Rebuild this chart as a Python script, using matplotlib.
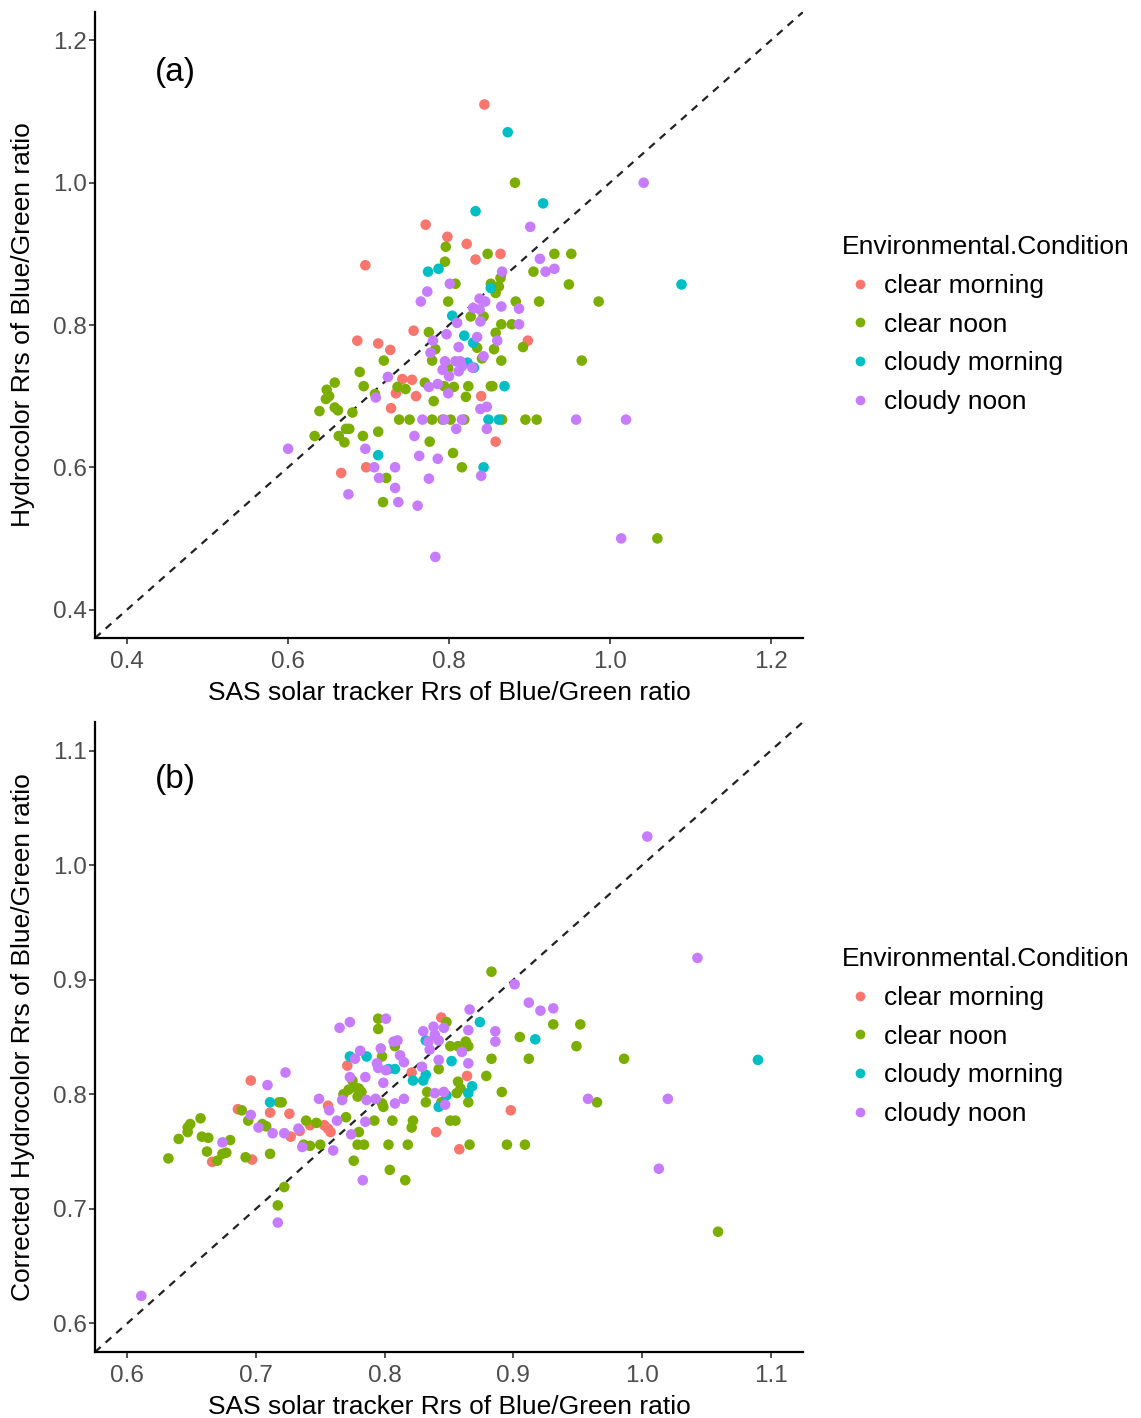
import matplotlib
matplotlib.use("Agg")
import matplotlib.pyplot as plt

plt.rcParams['font.family'] = ['Liberation Sans', 'DejaVu Sans']

categories = ['clear morning', 'clear noon', 'cloudy morning', 'cloudy noon']
colors = ['#F8766D', '#7CAE00', '#00BFC4', '#C77CFF']

# ---- panel (a): Hydrocolor vs SAS ----
a_clear_morning = [(0.844, 1.110), (0.771, 0.941), (0.798, 0.924), (0.822, 0.914), (0.696, 0.884),
                   (0.833, 0.892), (0.864, 0.900), (0.756, 0.792), (0.686, 0.778), (0.712, 0.774),
                   (0.727, 0.765), (0.898, 0.778), (0.742, 0.724), (0.754, 0.723), (0.734, 0.704),
                   (0.759, 0.700), (0.840, 0.700), (0.728, 0.683), (0.858, 0.636), (0.666, 0.592),
                   (0.697, 0.600)]
a_clear_noon = [(0.882, 1.000), (0.796, 0.910), (0.848, 0.900), (0.795, 0.889), (0.905, 0.875),
                (0.808, 0.858), (0.852, 0.858), (0.864, 0.866), (0.862, 0.854), (0.858, 0.845),
                (0.799, 0.833), (0.883, 0.833), (0.912, 0.833), (0.827, 0.812), (0.843, 0.812),
                (0.775, 0.790), (0.865, 0.801), (0.878, 0.801), (0.858, 0.789), (0.892, 0.769),
                (0.856, 0.766), (0.835, 0.768), (0.783, 0.766), (0.719, 0.750), (0.779, 0.750),
                (0.841, 0.753), (0.865, 0.750), (0.799, 0.739), (0.689, 0.734), (0.658, 0.719),
                (0.694, 0.714), (0.736, 0.713), (0.746, 0.710), (0.770, 0.719), (0.794, 0.714),
                (0.806, 0.713), (0.824, 0.714), (0.821, 0.699), (0.852, 0.714), (0.854, 0.714),
                (0.648, 0.709), (0.651, 0.700), (0.647, 0.696), (0.708, 0.703), (0.781, 0.693),
                (0.639, 0.679), (0.658, 0.684), (0.662, 0.680), (0.680, 0.677),
                (0.738, 0.667), (0.751, 0.667), (0.779, 0.667), (0.792, 0.667), (0.802, 0.667),
                (0.819, 0.667), (0.866, 0.667), (0.895, 0.667), (0.909, 0.667),
                (0.672, 0.654), (0.676, 0.654), (0.663, 0.644), (0.670, 0.635), (0.633, 0.644),
                (0.693, 0.644), (0.712, 0.650), (0.776, 0.636), (0.805, 0.620), (0.816, 0.600),
                (0.722, 0.585), (0.718, 0.551), (0.931, 0.900), (0.952, 0.900), (0.949, 0.857),
                (0.986, 0.833), (0.965, 0.750), (1.059, 0.500)]
a_cloudy_morning = [(0.873, 1.071), (0.917, 0.971), (0.833, 0.960), (0.774, 0.875), (0.787, 0.879),
                    (0.852, 0.852), (0.804, 0.813), (0.819, 0.785), (0.830, 0.775), (0.823, 0.747),
                    (0.831, 0.740), (0.869, 0.714), (0.849, 0.667), (0.862, 0.667), (0.712, 0.617),
                    (0.843, 0.600), (1.089, 0.857)]
a_cloudy_noon = [(0.901, 0.938), (0.913, 0.893), (0.920, 0.875), (0.866, 0.875), (0.801, 0.858),
                 (0.773, 0.847), (0.765, 0.833), (0.838, 0.837), (0.830, 0.824), (0.845, 0.833),
                 (0.838, 0.822), (0.865, 0.826), (0.887, 0.823), (0.839, 0.805), (0.810, 0.803),
                 (0.887, 0.801), (0.797, 0.787), (0.780, 0.778), (0.835, 0.783), (0.812, 0.769),
                 (0.860, 0.778), (0.777, 0.761), (0.795, 0.749), (0.808, 0.749), (0.814, 0.749),
                 (0.843, 0.756), (0.829, 0.740), (0.792, 0.737), (0.800, 0.728), (0.812, 0.735),
                 (0.816, 0.742), (0.724, 0.727), (0.775, 0.713), (0.786, 0.717), (0.799, 0.704),
                 (0.709, 0.698), (0.839, 0.682), (0.847, 0.685),
                 (0.767, 0.667), (0.794, 0.667), (0.816, 0.667), (0.958, 0.667), (1.020, 0.667),
                 (0.809, 0.654), (0.847, 0.654), (0.757, 0.644), (0.600, 0.626), (0.696, 0.626),
                 (0.763, 0.616), (0.786, 0.612), (0.707, 0.600), (0.733, 0.600), (0.840, 0.588),
                 (0.713, 0.585), (0.775, 0.584), (0.733, 0.571), (0.675, 0.562), (0.737, 0.551),
                 (0.761, 0.546), (0.783, 0.474), (1.042, 1.000), (0.931, 0.879), (1.014, 0.500)]

# ---- panel (b): corrected Hydrocolor vs SAS ----
b_clear_morning = [(0.666, 0.741), (0.697, 0.743), (0.696, 0.812), (0.686, 0.787), (0.711, 0.784),
                   (0.726, 0.783), (0.727, 0.763), (0.734, 0.768), (0.742, 0.773), (0.753, 0.773),
                   (0.756, 0.770), (0.758, 0.767), (0.756, 0.790), (0.771, 0.825), (0.821, 0.819),
                   (0.844, 0.867), (0.864, 0.816), (0.898, 0.786), (0.840, 0.767), (0.858, 0.752)]
b_clear_noon = [(0.632, 0.744), (0.640, 0.761), (0.647, 0.771), (0.649, 0.774), (0.647, 0.767),
                (0.657, 0.779), (0.658, 0.763), (0.663, 0.762), (0.680, 0.760), (0.662, 0.750),
                (0.670, 0.742), (0.674, 0.748), (0.677, 0.749), (0.692, 0.745), (0.711, 0.748),
                (0.689, 0.786), (0.694, 0.777), (0.705, 0.774), (0.708, 0.772), (0.718, 0.793),
                (0.720, 0.793), (0.737, 0.756), (0.742, 0.755), (0.739, 0.777), (0.747, 0.775),
                (0.750, 0.756), (0.770, 0.780), (0.780, 0.767), (0.779, 0.756), (0.784, 0.756),
                (0.776, 0.742), (0.722, 0.719), (0.717, 0.703), (0.795, 0.866), (0.795, 0.857),
                (0.808, 0.842), (0.798, 0.833), (0.775, 0.812), (0.777, 0.806), (0.780, 0.805),
                (0.782, 0.802), (0.779, 0.798), (0.772, 0.804), (0.768, 0.800), (0.798, 0.792),
                (0.799, 0.789), (0.792, 0.777), (0.806, 0.777), (0.822, 0.777), (0.821, 0.771),
                (0.803, 0.756), (0.818, 0.756), (0.804, 0.734), (0.816, 0.725), (0.883, 0.907),
                (0.848, 0.863), (0.931, 0.861), (0.952, 0.861), (0.905, 0.850), (0.949, 0.842),
                (0.851, 0.842), (0.857, 0.842), (0.863, 0.846), (0.865, 0.842), (0.986, 0.831),
                (0.883, 0.831), (0.912, 0.831), (0.842, 0.822), (0.879, 0.816), (0.857, 0.811),
                (0.859, 0.805), (0.856, 0.801), (0.891, 0.802), (0.833, 0.802), (0.832, 0.793),
                (0.865, 0.793), (0.844, 0.793), (0.965, 0.793), (0.851, 0.777), (0.855, 0.777),
                (0.866, 0.756), (0.895, 0.756), (0.909, 0.756), (1.059, 0.680)]
b_cloudy_morning = [(0.711, 0.793), (0.773, 0.833), (0.786, 0.833), (0.803, 0.822), (0.808, 0.822),
                    (0.822, 0.812), (0.874, 0.863), (0.832, 0.847), (0.917, 0.848), (0.852, 0.829),
                    (0.832, 0.817), (0.830, 0.812), (0.868, 0.807), (0.865, 0.801), (0.848, 0.799),
                    (0.842, 0.789), (1.090, 0.830)]
b_cloudy_noon = [(0.674, 0.758), (0.709, 0.808), (0.723, 0.819), (0.696, 0.782), (0.702, 0.771),
                 (0.713, 0.766), (0.722, 0.766), (0.733, 0.770), (0.736, 0.754), (0.760, 0.751),
                 (0.749, 0.796), (0.757, 0.786), (0.763, 0.777), (0.774, 0.765), (0.783, 0.725),
                 (0.717, 0.688), (0.765, 0.858), (0.773, 0.863), (0.801, 0.866), (0.807, 0.846),
                 (0.810, 0.847), (0.781, 0.838), (0.777, 0.831), (0.797, 0.840), (0.794, 0.827),
                 (0.795, 0.823), (0.801, 0.821), (0.812, 0.834), (0.815, 0.828), (0.773, 0.815),
                 (0.785, 0.815), (0.799, 0.810), (0.767, 0.795), (0.786, 0.795), (0.793, 0.796),
                 (0.808, 0.792), (0.815, 0.796), (0.785, 0.776), (0.901, 0.896), (0.866, 0.874),
                 (0.912, 0.880), (0.921, 0.873), (0.931, 0.875), (0.830, 0.855), (0.838, 0.859),
                 (0.846, 0.858), (0.839, 0.852), (0.834, 0.846), (0.842, 0.847), (0.865, 0.856),
                 (0.886, 0.855), (0.886, 0.846), (0.860, 0.837), (0.835, 0.839), (0.842, 0.830),
                 (0.865, 0.827), (0.829, 0.824), (0.839, 0.801), (0.846, 0.802), (0.847, 0.791),
                 (0.958, 0.796), (1.004, 1.025), (1.043, 0.919), (1.020, 0.796), (1.013, 0.735),
                 (0.611, 0.624)]

a_ticks = [0.4, 0.6, 0.8, 1.0, 1.2]
b_ticks = [0.6, 0.7, 0.8, 0.9, 1.0, 1.1]

W, H = 1141, 1418
fig = plt.figure(figsize=(W / 100, H / 100), dpi=100)


def panel(rect, series, ticks, lim, ylabel, tag, tag_y, leg_top):
    ax = fig.add_axes(rect)
    ax.plot(lim, lim, ls=(0, (3.4, 3.0)), color='#222222', lw=1.6, zorder=1)
    for pts, c in zip(series, colors):
        xs = [p[0] for p in pts]
        ys = [p[1] for p in pts]
        ax.scatter(xs, ys, s=58, color=c, edgecolors='none', zorder=2)
    ax.set_xlim(lim)
    ax.set_ylim(lim)
    ax.set_xticks(ticks)
    ax.set_yticks(ticks)
    ax.set_xticklabels([f'{t:.1f}' for t in ticks])
    ax.set_yticklabels([f'{t:.1f}' for t in ticks])
    for s in ['top', 'right']:
        ax.spines[s].set_visible(False)
    for s in ['left', 'bottom']:
        ax.spines[s].set_linewidth(1.6)
        ax.spines[s].set_color('black')
    ax.tick_params(length=4, width=1.2, color='#333333', labelcolor='#4D4D4D',
                   labelsize=17.5)
    ax.tick_params(axis='x', pad=5)
    ax.tick_params(axis='y', pad=2)
    ax.set_xlabel('SAS solar tracker Rrs of Blue/Green ratio', fontsize=19, labelpad=6)
    ax.set_ylabel(ylabel, fontsize=19, labelpad=13)
    ax.text(0.085, tag_y, tag, transform=ax.transAxes, fontsize=24, va='center')
    handles = [plt.Line2D([], [], ls='none', marker='o', ms=7, color=c, mec='none')
               for c in colors]
    ax.legend(handles, categories, title='Environmental.Condition', loc='upper left',
              bbox_to_anchor=(842 / W, leg_top), bbox_transform=fig.transFigure,
              frameon=False, fontsize=19, title_fontsize=19, alignment='left',
              borderpad=0, borderaxespad=0, handlelength=1.36, handletextpad=0.22,
              labelspacing=0.56)
    return ax


lim_a = (0.36, 1.24)
lim_b = (0.575, 1.125)
panel([95 / W, 1 - 638 / H, 708 / W, 626 / H],
      [a_clear_morning, a_clear_noon, a_cloudy_morning, a_cloudy_noon],
      a_ticks, lim_a, 'Hydrocolor Rrs of Blue/Green ratio', '(a)', 0.903, 1 - 235 / H)
panel([95 / W, 1 - 1352 / H, 708 / W, 630 / H],
      [b_clear_morning, b_clear_noon, b_cloudy_morning, b_cloudy_noon],
      b_ticks, lim_b, 'Corrected Hydrocolor Rrs of Blue/Green ratio', '(b)', 0.909, 1 - 947 / H)

fig.savefig('out.png', dpi=100)
